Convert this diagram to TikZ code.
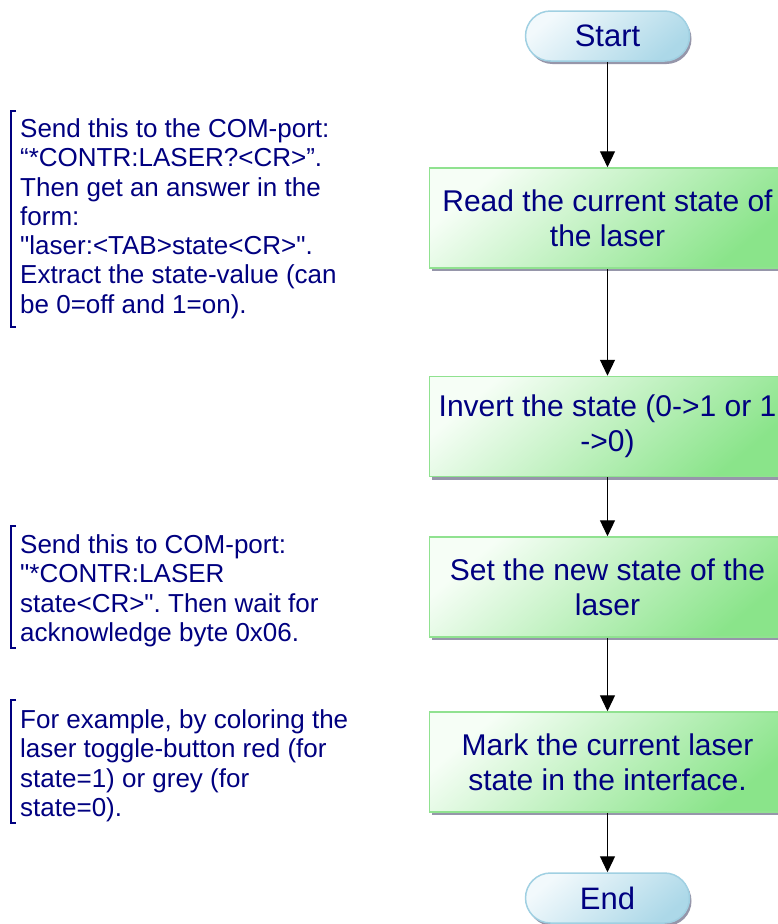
\documentclass[tikz,border=0pt]{standalone}
\usepackage{fontspec}
\setmainfont{Liberation Sans}[Ligatures=TeXOff]
\usetikzlibrary{arrows.meta,shadows}
\definecolor{txt}{RGB}{0,0,128}
\definecolor{gborder}{RGB}{144,226,144}
\definecolor{glight}{RGB}{246,254,246}
\definecolor{gdark}{RGB}{138,228,138}
\definecolor{bborder}{RGB}{160,208,226}
\definecolor{blight}{RGB}{242,249,252}
\definecolor{bdark}{RGB}{172,216,232}
\definecolor{shd}{RGB}{150,150,170}
\frenchspacing
\begin{document}
\begin{tikzpicture}[x=1pt,y=-1pt,
  procbox/.style={draw=gborder,line width=1.5pt,top color=glight,bottom color=gdark,shading angle=40,
    minimum width=356pt,minimum height=100pt,inner sep=0pt,align=center,text=txt,
    font=\fontsize{30}{35}\selectfont,
    drop shadow={shadow xshift=2pt,shadow yshift=-3pt,fill=shd,opacity=1}},
  termbox/.style={draw=bborder,line width=1.5pt,top color=blight,bottom color=bdark,shading angle=40,
    rounded corners=25pt,minimum width=164pt,minimum height=50pt,inner sep=0pt,text=txt,
    font=\fontsize{31}{36}\selectfont,
    drop shadow={shadow xshift=2pt,shadow yshift=-3pt,fill=shd,opacity=1}},
  note/.style={anchor=north west,inner sep=0pt,align=left,text=txt,font=\fontsize{26}{29.3}\selectfont},
  brk/.style={draw=txt,line width=1.3pt},
  arr/.style={draw=black,line width=1.2pt,-{Triangle[width=15pt,length=16pt]}}]
\useasboundingbox (0,0) rectangle (777,924);
\node[termbox] (start) at (607.5,36) {Start};
\node[procbox] (b1) at (607.5,218) {Read the current state of\\the laser};
\node[procbox] (b2) at (607.5,426.5) {Invert the state (0->1 or 1\\->0)};
\node[procbox] (b3) at (607.5,587) {Set the new state of the\\laser};
\node[procbox] (b4) at (607.5,762) {Mark the current laser\\state in the interface.};
\node[termbox] (end) at (607.5,898) {End};
\draw[arr] (start) -- (b1);
\draw[arr] (b1) -- (b2);
\draw[arr] (b2) -- (b3);
\draw[arr] (b3) -- (b4);
\draw[arr] (b4) -- (end);
\node[note] (n1) at (20,118.4) {Send this to the COM-port:\\“*CONTR:LASER?<CR>”.\\Then get an answer in the\\form:\\"laser:<TAB>state<CR>".\\Extract the state-value (can\\be 0=off and 1=on).};
\node[note] (n2) at (20,534.4) {Send this to COM-port:\\"*CONTR:LASER\\state<CR>". Then wait for\\acknowledge byte 0x06.};
\node[note] (n3) at (20,709.4) {For example, by coloring the\\laser toggle-button red (for\\state=1) or grey (for\\state=0).};
\draw[brk] (16,111) -- (11,111) -- (11,327) -- (16,327);
\draw[brk] (16,526) -- (11,526) -- (11,648) -- (16,648);
\draw[brk] (16,700) -- (11,700) -- (11,823) -- (16,823);
\end{tikzpicture}
\end{document}
